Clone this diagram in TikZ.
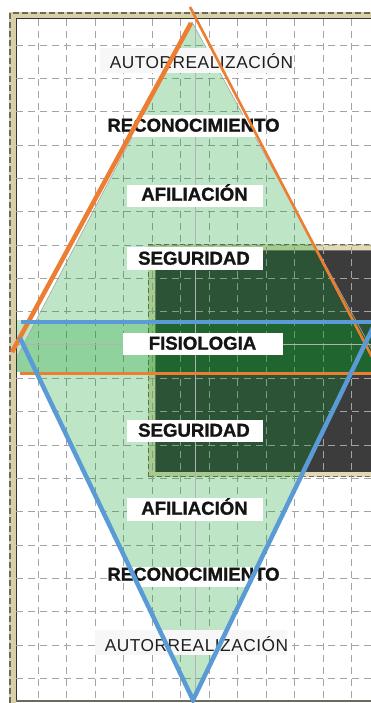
\documentclass[tikz,border=0pt]{standalone}
\usepackage{fontspec}
\setmainfont{Liberation Sans}
\definecolor{tanc}{HTML}{D8D0A8}
\definecolor{rectborder}{HTML}{E2DAB4}
\definecolor{darkfill}{HTML}{3C3C3C}
\definecolor{greenov}{RGB}{0,155,35}
\definecolor{orangel}{HTML}{ED7D31}
\definecolor{bluel}{HTML}{5B9BD5}
\definecolor{gridc}{HTML}{A4A4A4}
\definecolor{framedash}{HTML}{6E6A5A}
\begin{document}
\begin{tikzpicture}[x=1pt,y=-1pt,
  gridline/.style={draw=gridc,line width=0.9pt,dash pattern=on 7pt off 5pt},
  centerline/.style={draw=gray!60,line width=0.9pt},
  greenlayer/.style={fill=greenov,fill opacity=0.25},
  labelbox/.style={fill=white,draw=none,inner sep=0pt},
  softbox/.style={fill=white!97!black,draw=none,inner sep=0pt},
  boldlabel/.style={inner sep=0pt,text height=13.3pt,text depth=0pt,
    font=\fontsize{18.6}{20}\selectfont\bfseries\addfontfeatures{FakeBold=1.2},text=black!92},
  thinlabel/.style={inner sep=0pt,text height=12.3pt,text depth=0pt,
    font=\fontsize{17.3}{20}\selectfont\addfontfeatures{LetterSpace=3},text=black!88},
  orangeline/.style={draw=orangel},
  blueline/.style={draw=bluel,line width=4.5pt}]
\useasboundingbox (0,0) rectangle (371,703);
\clip (0,0) rectangle (371,703);
\fill[white] (0,0) rectangle (371,703);
% outer frame
\fill[tanc] (9,12) rectangle (371,19);
\fill[tanc] (9,12) rectangle (16,703);
\fill[white] (16,19) rectangle (371,700);
\draw[framedash,line width=1.3pt,dash pattern=on 6pt off 3pt] (10,703) -- (10,13) -- (371,13);
\draw[black!80,line width=1pt] (16,700) -- (16,19) -- (371,19);
\draw[framedash,line width=2pt] (16,701) -- (371,701);
% dark rectangle
\fill[rectborder] (148,244) rectangle (380,477);
\fill[darkfill] (155,250) rectangle (380,472);
\draw[black!55,line width=0.6pt] (155,472) -- (155,250) -- (380,250);
\draw[framedash,line width=1pt,dash pattern=on 5pt off 3pt] (148.5,477) -- (148.5,244.5) -- (380,244.5);
\draw[framedash,line width=1pt,dash pattern=on 5pt off 3pt] (148.5,476.5) -- (380,476.5);
% grid
\foreach \gx in {38,66.5,95,123.5,152,180.5,209,237.5,266,294.5,323,351.5}
  \draw[gridline] (\gx,19) -- (\gx,700);
\foreach \gy in {45,78.3,111.6,145,178.3,211.6,245,278.3,311.6,378.3,411.6,445,478.3,511.6,545,578.3,611.6,645,678.3}
  \draw[gridline] (16,\gy) -- (371,\gy);
% green layers
\fill[greenlayer] (17,320) rectangle (380,372);
\fill[greenlayer] (192,22) -- (17,357) -- (17,372) -- (36,372) -- (194,700)
  -- (352,372) -- (380,372) -- (380,357) -- (376,357) -- cycle;
\draw[gray!70,line width=0.6pt] (17,357) -- (192,22) -- (376,357);
% centre guides
\draw[centerline] (195,19) -- (195,700);
\draw[centerline] (16,344) -- (371,344);
% label boxes
\node[softbox,minimum width=193pt,minimum height=25pt] (b1) at (196.5,60.5) {};
\node[labelbox,minimum width=125pt,minimum height=22pt] (b2) at (192.5,126) {};
\node[labelbox,minimum width=136pt,minimum height=22pt] (b3) at (195,196) {};
\node[labelbox,minimum width=136pt,minimum height=23pt] (b4) at (195,258.5) {};
\node[labelbox,minimum width=160pt,minimum height=22pt] (b5) at (203,344) {};
\node[labelbox,minimum width=136pt,minimum height=22pt] (b6) at (195,431) {};
\node[labelbox,minimum width=136pt,minimum height=23pt] (b7) at (195,509.5) {};
\node[labelbox,minimum width=127pt,minimum height=20pt] (b8) at (193.5,577) {};
\node[softbox,minimum width=192pt,minimum height=25pt] (b9) at (191,642.5) {};
% labels
\node[thinlabel] (t1) at (201.5,62) {AUTORREALIZACIÓN};
\node[boldlabel] (t2) at (193.5,125) {RECONOCIMIENTO};
\node[boldlabel] (t3) at (194.5,194) {AFILIACIÓN};
\node[boldlabel] (t4) at (194,258) {SEGURIDAD};
\node[boldlabel] (t5) at (202.5,343) {FISIOLOGIA};
\node[boldlabel] (t6) at (194,430) {SEGURIDAD};
\node[boldlabel] (t7) at (194.5,508) {AFILIACIÓN};
\node[boldlabel] (t8) at (193.5,574) {RECONOCIMIENTO};
\node[thinlabel] (t9) at (196.5,645) {AUTORREALIZACIÓN};
% orange lines
\coordinate (oTopA) at (191,23);
\coordinate (oLeft) at (12,352);
\coordinate (oTopB) at (190,7);
\coordinate (oRight) at (384,380);
\coordinate (oHa) at (20,373.5);
\coordinate (oHb) at (371,373.5);
\draw[orangeline,line width=4.5pt] (oTopA) -- (oLeft);
\draw[orangeline,line width=2.6pt] (oTopB) -- (oRight);
\draw[orangeline,line width=3pt] (oHa) -- (oHb);
% blue lines
\coordinate (bHa) at (21,322);
\coordinate (bHb) at (371,322);
\coordinate (bL) at (20,338);
\coordinate (bBot) at (193,700);
\coordinate (bR) at (379,315);
\draw[blueline] (bHa) -- (bHb);
\draw[blueline] (bL) -- (bBot) -- (bR);
\end{tikzpicture}
\end{document}
